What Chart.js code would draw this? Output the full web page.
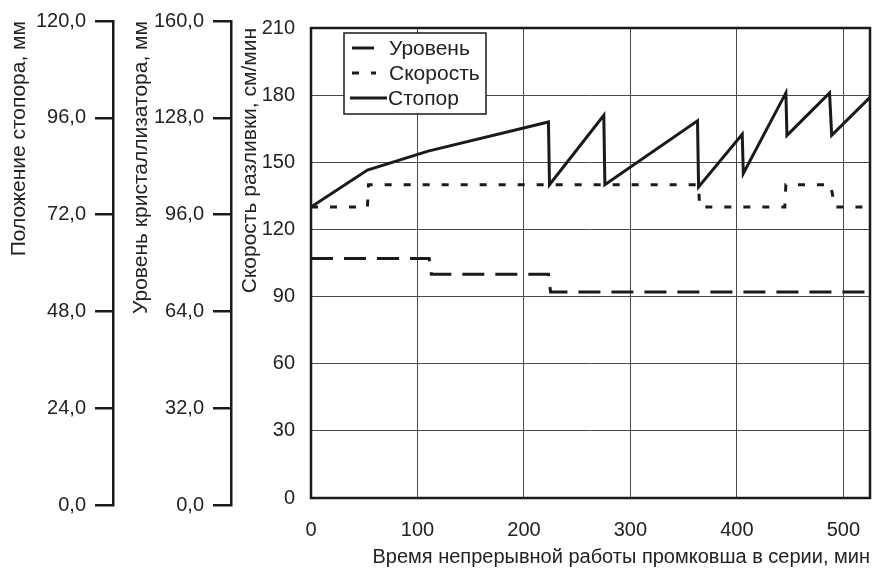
<!DOCTYPE html>
<html lang="ru">
<head>
<meta charset="utf-8">
<title>Скорость разливки</title>
<script src="https://cdn.jsdelivr.net/npm/chart.js@4.4.1/dist/chart.umd.min.js"></script>
<style>
  html, body { margin: 0; padding: 0; background: #fff; }
  canvas { display: block; }
</style>
</head>
<body>
<canvas id="grafico" width="893" height="569"></canvas>
<script>
// Уровень (в единицах основной шкалы скорости)
const urovenX = [0, 111, 113, 223, 225, 525];
const urovenY = [107, 107, 100, 100, 92, 92];

// Скорость разливки
const skorostX = [0, 53, 54, 364, 365, 445, 446, 488, 492, 525];
const skorostY = [130, 130, 140, 140, 130, 130, 140, 140, 130, 130];

// Стопор
const stoporX = [0, 53, 110, 223, 224, 275, 276, 363, 364, 405, 406, 446, 447, 487, 489, 525];
const stoporY = [130, 146.5, 155, 168, 140, 171, 140, 168.5, 139, 162.5, 145, 181, 162, 181, 162, 179];

const legendas = ["Уровень", "Скорость", "Стопор"];

const xTitulo = "Время непрерывной работы промковша в серии, мин";
const yTitulo = "Скорость разливки, см/мин";
const yNivelTitulo = "Уровень кристаллизатора, мм";
const yStopTitulo = "Положение стопора, мм";

const cor = "#1a1a1a";
const gradeCor = "#4a4a4a";
const fonte = "'Liberation Sans', Arial, sans-serif";

function pontos(xs, ys) {
  return xs.map((x, i) => ({ x: x, y: ys[i] }));
}

function virgula(v) {
  return v.toFixed(1).replace(".", ",");
}

Chart.defaults.font.family = fonte;
Chart.defaults.font.size = 20;
Chart.defaults.color = "#222";

const tituloFonte = { size: 21 };

const moldura = {
  id: "moldura",
  afterLayout(chart) {
    // шкалы слева немного длиннее области графика
    const a = chart.chartArea;
    ["yStop", "yNivel"].forEach(id => {
      const s = chart.scales[id];
      s.top = a.top - 7;
      s.bottom = a.bottom + 7;
      s.height = s.bottom - s.top;
      s.configure();
    });
  },
  afterDatasetsDraw(chart) {
    const { ctx, chartArea: a } = chart;
    ctx.save();
    ctx.strokeStyle = cor;
    ctx.lineWidth = 2.5;
    ctx.strokeRect(a.left, a.top, a.right - a.left, a.bottom - a.top);

    // легенда
    const lx = a.left + 33;
    const ly = a.top + 5;
    ctx.fillStyle = "#fff";
    ctx.fillRect(lx, ly, 142, 81);
    ctx.lineWidth = 1.5;
    ctx.strokeRect(lx, ly, 142, 81);

    ctx.font = "21px " + fonte;
    ctx.textBaseline = "middle";
    chart.data.datasets.forEach((ds, i) => {
      const y = ly + 15 + i * 25;
      const comp = ds.borderDash.length ? 24 : 37;
      const x0 = ds.borderDash.length ? lx + 8 : lx + 6;
      ctx.setLineDash(ds.borderDash);
      ctx.lineWidth = ds.borderWidth;
      ctx.strokeStyle = cor;
      ctx.beginPath();
      ctx.moveTo(x0, y);
      ctx.lineTo(x0 + comp, y);
      ctx.stroke();
      ctx.setLineDash([]);
      ctx.fillStyle = "#222";
      ctx.fillText(ds.label, ds.borderDash.length ? lx + 45 : lx + 44, y + 1);
    });
    ctx.restore();
  }
};

const ctx = document.getElementById("grafico");

const grafico = new Chart(ctx, {
  type: "line",
  data: {
    datasets: [
      {
        label: legendas[0],
        data: pontos(urovenX, urovenY),
        borderColor: cor,
        borderWidth: 3,
        borderDash: [22, 11],
        pointRadius: 0,
        yAxisID: "y"
      },
      {
        label: legendas[1],
        data: pontos(skorostX, skorostY),
        borderColor: cor,
        borderWidth: 3,
        borderDash: [7, 12],
        pointRadius: 0,
        yAxisID: "y"
      },
      {
        label: legendas[2],
        data: pontos(stoporX, stoporY),
        borderColor: cor,
        borderWidth: 3,
        borderDash: [],
        pointRadius: 0,
        yAxisID: "y"
      }
    ]
  },
  options: {
    responsive: false,
    animation: false,
    devicePixelRatio: 1,
    layout: { padding: { top: 22, right: 23, left: 0, bottom: 0 } },
    plugins: {
      legend: { display: false },
      tooltip: { enabled: false }
    },
    scales: {
      x: {
        type: "linear",
        min: 0,
        max: 525,
        ticks: { stepSize: 100, includeBounds: false, padding: 20, maxRotation: 0 },
        grid: { color: gradeCor, lineWidth: 1, drawTicks: false },
        border: { display: false },
        title: { display: true, text: xTitulo, align: "end", font: { size: 20 }, padding: { top: 0, bottom: 0 } },
        afterFit(s) { s.height = 71; }
      },
      y: {
        position: "left",
        weight: 0,
        min: 0,
        max: 210,
        ticks: { stepSize: 30, padding: 16 },
        grid: { color: gradeCor, lineWidth: 1, drawTicks: false },
        border: { display: false },
        title: { display: true, text: yTitulo, align: "end", font: tituloFonte, padding: { top: 7, bottom: 0 } },
        afterFit(s) { s.width = 80; }
      },
      yNivel: {
        position: "left",
        weight: 1,
        min: 0,
        max: 160,
        ticks: { stepSize: 32, padding: 9, callback: virgula },
        grid: { drawOnChartArea: false, drawTicks: true, tickLength: 18, color: cor, lineWidth: 2.5 },
        border: { display: true, color: cor, width: 2.5 },
        title: { display: true, text: yNivelTitulo, align: "end", font: tituloFonte, padding: { top: 16, bottom: 0 } },
        afterFit(s) { s.width = 118; }
      },
      yStop: {
        position: "left",
        weight: 2,
        min: 0,
        max: 120,
        ticks: { stepSize: 24, padding: 9, callback: virgula },
        grid: { drawOnChartArea: false, drawTicks: true, tickLength: 18, color: cor, lineWidth: 2.5 },
        border: { display: true, color: cor, width: 2.5 },
        title: { display: true, text: yStopTitulo, align: "end", font: tituloFonte, padding: { top: 7, bottom: 0 } },
        afterFit(s) { s.width = 113; }
      }
    }
  },
  plugins: [moldura]
});
</script>
</body>
</html>
